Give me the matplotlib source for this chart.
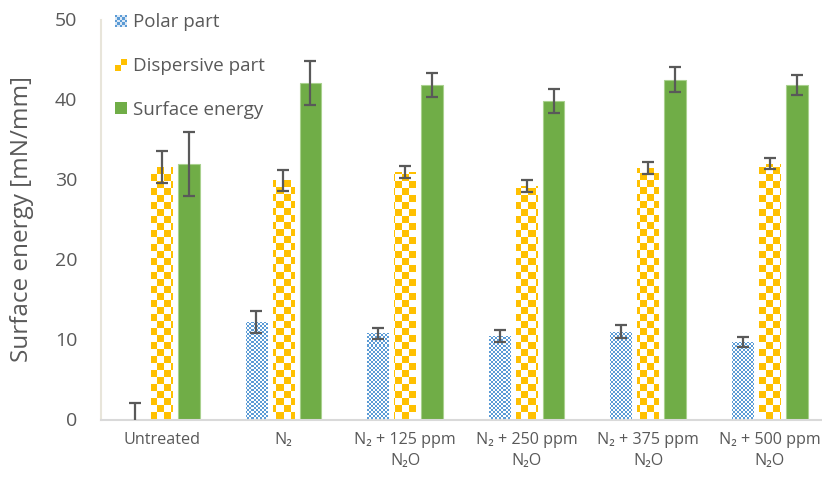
import matplotlib
matplotlib.use('Agg')
import matplotlib.pyplot as plt
import numpy as np
from matplotlib.colors import ListedColormap
from matplotlib.patches import Rectangle
from matplotlib.legend_handler import HandlerBase

plt.rcParams['font.family'] = ['Open Sans', 'DejaVu Sans']

categories = ['Untreated', 'N\u2082', 'N\u2082 + 125 ppm\nN\u2082O', 'N\u2082 + 250 ppm\nN\u2082O',
              'N\u2082 + 375 ppm\nN\u2082O', 'N\u2082 + 500 ppm\nN\u2082O']
polar = [0.1, 12.2, 10.8, 10.5, 11.0, 9.7]
polar_err = [2.0, 1.4, 0.7, 0.75, 0.8, 0.65]
dispersive = [31.6, 29.9, 31.0, 29.2, 31.4, 32.0]
dispersive_err = [2.0, 1.35, 0.75, 0.8, 0.75, 0.65]
surface = [31.9, 42.1, 41.8, 39.8, 42.5, 41.8]
surface_err = [4.0, 2.75, 1.5, 1.5, 1.6, 1.25]

BLUE = '#5B9BD5'
YELLOW = '#FFC000'
GREEN = '#70AD47'
GREY = '#595959'

W, H = 822, 479
fig = plt.figure(figsize=(W / 100, H / 100), dpi=100)
ax_l, ax_b, ax_h = 101, 59.5, 400
ax_w = W - ax_l
ax = fig.add_axes([ax_l / W, ax_b / H, ax_w / W, ax_h / H])

x = np.arange(len(categories))
bw = 0.177
off = 0.222
xlim = (-0.5, -0.5 + ax_w / 121.6)
ylim = (0, 50)

b_pol = ax.bar(x - off, polar, bw, color='white', lw=0, zorder=1)
b_dis = ax.bar(x, dispersive, bw, color='white', lw=0, zorder=1)
b_sur = ax.bar(x + off, surface, bw, color=GREEN, edgecolor='#A9D18E', lw=0.8, zorder=2)


def checker(cell, color):
    # checkerboard texture in screen pixels spanning the whole axes
    ny, nx = int(ax_h / cell) + 1, int(ax_w / cell) + 1
    arr = (np.add.outer(np.arange(ny), np.arange(nx)) % 2).astype(float)
    ex = (xlim[0], xlim[0] + nx * cell * (xlim[1] - xlim[0]) / ax_w,
          0, ny * cell * 50 / ax_h)
    return arr, ex, ListedColormap(['white', color])


for bars, cell, color in [(b_pol, 2, BLUE), (b_dis, 7, YELLOW)]:
    arr, ex, cmap = checker(cell, color)
    for bar in bars:
        im = ax.imshow(arr, extent=ex, origin='lower', interpolation='nearest',
                       aspect='auto', cmap=cmap, vmin=0, vmax=1, zorder=2)
        im.set_clip_path(bar)

ekw = dict(fmt='none', ecolor=GREY, elinewidth=1.6, capsize=4, capthick=1.6, zorder=4)
ax.errorbar(x - off, polar, yerr=polar_err, **ekw)
ax.errorbar(x, dispersive, yerr=dispersive_err, **ekw)
ax.errorbar(x + off, surface, yerr=surface_err, **ekw)

ax.set_xlim(xlim)
ax.set_ylim(ylim)
ax.set_yticks(range(0, 51, 10))
ax.set_xticks(x)
ax.set_xticklabels(categories, fontsize=11.6, color=GREY, linespacing=1.4)
ax.tick_params(axis='y', length=0, labelsize=14, labelcolor=GREY, pad=17)
ax.tick_params(axis='x', length=0, pad=9)
for s in ['top', 'right']:
    ax.spines[s].set_visible(False)
ax.spines['left'].set_color('#E8E5DA')
ax.spines['left'].set_linewidth(1.5)
ax.spines['bottom'].set_color('#D9D9D9')
ax.spines['bottom'].set_linewidth(1.5)
ax.set_ylabel('Surface energy [mN/mm]', fontsize=17.5, color=GREY)
ax.yaxis.set_label_coords(-0.093, 0.5)


class PolarHandle:
    pass


class DispHandle:
    pass


class HandlerPolar(HandlerBase):
    def create_artists(self, legend, orig, x0, y0, width, height, fontsize, trans):
        out = []
        n = 5
        c = height / n
        for i in range(n):
            for j in range(n):
                col = BLUE if (i + j) % 2 == 0 else '#DCE8F5'
                out.append(Rectangle((x0 + j * c, y0 + i * c), c, c, fc=col, lw=0, transform=trans))
        return out


class HandlerDisp(HandlerBase):
    def create_artists(self, legend, orig, x0, y0, width, height, fontsize, trans):
        c = height / 2
        return [Rectangle((x0, y0), c, c, fc=YELLOW, lw=0, transform=trans),
                Rectangle((x0 + c, y0 + c), c, c, fc=YELLOW, lw=0, transform=trans)]


handles = [PolarHandle(), DispHandle(), Rectangle((0, 0), 1, 1, fc=GREEN, lw=0)]
ax.legend(handles, ['Polar part', 'Dispersive part', 'Surface energy'],
          handler_map={PolarHandle: HandlerPolar(), DispHandle: HandlerDisp()},
          loc='upper left', bbox_to_anchor=(0.006, 1.04), frameon=False,
          fontsize=13.5, labelcolor=GREY, handlelength=0.65, handleheight=0.65,
          handletextpad=0.35, labelspacing=1.38, borderpad=0)

fig.savefig('out.png', dpi=100)
